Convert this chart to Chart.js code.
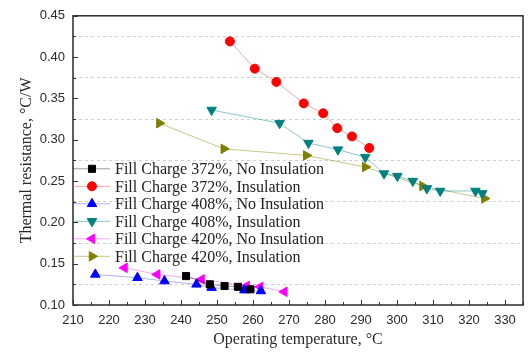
<!DOCTYPE html>
<html>
<head>
<meta charset="utf-8">
<script src="https://cdn.jsdelivr.net/npm/chart.js@4/dist/chart.umd.min.js"></script>
<style>
  html, body { margin: 0; padding: 0; background: #fff; }
</style>
</head>
<body>
<canvas id="thermalChart" width="531" height="352"></canvas>
<script>
// Operating temperature (°C) and thermal resistance (°C/W) per test case
const temp372NoIns = [241.4, 248.0, 252.1, 255.8, 259.3];
const res372NoIns  = [0.135, 0.125, 0.123, 0.122, 0.119];

const temp372Ins = [253.6, 260.5, 266.5, 274.1, 279.5, 283.4, 287.5, 292.3];
const res372Ins  = [0.419, 0.386, 0.370, 0.344, 0.332, 0.314, 0.304, 0.290];

const temp408NoIns = [216.2, 227.9, 235.4, 244.3, 248.5, 257.6, 262.2];
const res408NoIns  = [0.137, 0.133, 0.129, 0.125, 0.121, 0.118, 0.117];

const temp408Ins = [248.5, 267.4, 275.4, 283.6, 291.2, 296.4, 300.1, 304.4, 308.3, 312.0, 321.8, 323.7];
const res408Ins  = [0.336, 0.320, 0.296, 0.288, 0.279, 0.259, 0.256, 0.250, 0.241, 0.238, 0.238, 0.235];

const temp420NoIns = [224.3, 233.4, 245.7, 258.2, 262.0, 268.7];
const res420NoIns  = [0.145, 0.137, 0.131, 0.123, 0.122, 0.116];

const temp420Ins = [234.0, 251.9, 274.8, 291.2, 307.1, 324.3];
const res420Ins  = [0.320, 0.289, 0.281, 0.267, 0.244, 0.229];

const seriesLabels = [
  'Fill Charge 372%, No Insulation',
  'Fill Charge 372%, Insulation',
  'Fill Charge 408%, No Insulation',
  'Fill Charge 408%, Insulation',
  'Fill Charge 420%, No Insulation',
  'Fill Charge 420%, Insulation'
];

const xTickStep = 5;      // minor step, labels every 10
const yTickStep = 0.025;  // minor step, labels every 0.05

const SERIF = '"Liberation Serif", "Times New Roman", serif';
Chart.defaults.font.family = '"Liberation Sans", Arial, sans-serif';
Chart.defaults.color = '#2a2a2a';

function points(xs, ys) {
  return xs.map((x, i) => ({ x: x, y: ys[i] }));
}

function series(label, xs, ys, color, lineColor, style, rotation, radius) {
  return {
    label: label,
    data: points(xs, ys),
    borderColor: lineColor,
    borderWidth: 1,
    backgroundColor: color,
    pointBackgroundColor: color,
    pointBorderColor: color,
    pointBorderWidth: 1,
    pointStyle: style,
    pointRotation: rotation,
    pointRadius: radius,
    showLine: true,
    tension: 0
  };
}

const isMajorY = v => Math.round(v * 1000) % 50 === 0;

// frame around the plot plus inward tick marks
const axisFrame = {
  id: 'axisFrame',
  afterDatasetsDraw(chart) {
    const { ctx, chartArea: a, scales } = chart;
    ctx.save();
    ctx.strokeStyle = '#333';
    ctx.lineWidth = 1;
    scales.x.ticks.forEach(t => {
      const px = Math.round(scales.x.getPixelForValue(t.value)) + 0.5;
      const len = t.value % 10 === 0 ? 5 : 3;
      ctx.beginPath(); ctx.moveTo(px, a.bottom); ctx.lineTo(px, a.bottom - len); ctx.stroke();
    });
    scales.y.ticks.forEach(t => {
      const py = Math.round(scales.y.getPixelForValue(t.value)) + 0.5;
      const len = isMajorY(t.value) ? 5 : 3;
      ctx.beginPath(); ctx.moveTo(a.left, py); ctx.lineTo(a.left + len, py); ctx.stroke();
    });
    ctx.lineWidth = 1.5;
    ctx.strokeStyle = '#2a2a2a';
    ctx.strokeRect(a.left, a.top, a.right - a.left, a.bottom - a.top);
    ctx.restore();
  }
};

// legend drawn inside the plot area, left-aligned
const insideLegend = {
  id: 'insideLegend',
  afterDraw(chart) {
    const { ctx, chartArea: a } = chart;
    ctx.save();
    ctx.font = '16px ' + SERIF;
    ctx.textBaseline = 'middle';
    chart.data.datasets.forEach((ds, i) => {
      const y = a.top + 153 + i * 17.5;
      const x0 = a.left;
      ctx.strokeStyle = ds.borderColor;
      ctx.lineWidth = 1;
      ctx.beginPath(); ctx.moveTo(x0, y); ctx.lineTo(x0 + 37, y); ctx.stroke();
      ctx.fillStyle = ds.pointBackgroundColor;
      ctx.strokeStyle = ds.pointBorderColor;
      Chart.helpers.drawPoint(ctx, {
        pointStyle: ds.pointStyle,
        rotation: ds.pointRotation,
        radius: ds.pointRadius,
        borderWidth: 1
      }, x0 + 19, y);
      ctx.fillStyle = '#222';
      ctx.fillText(ds.label, x0 + 42, y + 1);
    });
    ctx.restore();
  }
};

const ctx = document.getElementById('thermalChart').getContext('2d');
const thermalChart = new Chart(ctx, {
  type: 'scatter',
  data: {
    datasets: [
      series(seriesLabels[0], temp372NoIns, res372NoIns, '#000000', 'rgba(0,0,0,0.4)', 'rect', 0, 5),
      series(seriesLabels[1], temp372Ins, res372Ins, '#ff0000', 'rgba(240,90,90,0.55)', 'circle', 0, 4.5),
      series(seriesLabels[2], temp408NoIns, res408NoIns, '#0000ff', 'rgba(60,60,220,0.4)', 'triangle', 0, 5.5),
      series(seriesLabels[3], temp408Ins, res408Ins, '#008080', 'rgba(0,128,128,0.45)', 'triangle', 180, 5.5),
      series(seriesLabels[4], temp420NoIns, res420NoIns, '#ff00ff', 'rgba(240,60,240,0.45)', 'triangle', 270, 5.5),
      series(seriesLabels[5], temp420Ins, res420Ins, '#808000', 'rgba(128,128,0,0.45)', 'triangle', 90, 5.5)
    ]
  },
  options: {
    responsive: false,
    animation: false,
    layout: { padding: { top: 13, right: 2, left: 0, bottom: 0 } },
    scales: {
      x: {
        type: 'linear',
        min: 210,
        max: 335,
        afterFit(scale) { scale.height = 47; },
        ticks: {
          stepSize: xTickStep,
          autoSkip: false,
          maxRotation: 0,
          padding: 8,
          font: { size: 13 },
          callback: v => (v % 10 === 0 && v <= 330 ? String(v) : '')
        },
        grid: { display: false, drawTicks: false },
        border: { display: false },
        title: {
          display: true,
          text: 'Operating temperature, °C',
          font: { family: SERIF, size: 16 },
          padding: { top: 4, bottom: 3 }
        }
      },
      y: {
        type: 'linear',
        min: 0.10,
        max: 0.45,
        afterFit(scale) { scale.width = 73; },
        ticks: {
          stepSize: yTickStep,
          autoSkip: false,
          padding: 8,
          font: { size: 13 },
          callback: v => (isMajorY(v) ? v.toFixed(2) : '')
        },
        grid: {
          drawTicks: false,
          color: c => (c.tick && !isMajorY(c.tick.value) ? '#cfcfcf' : 'rgba(0,0,0,0)'),
          lineWidth: 1
        },
        border: { display: false, dash: [3, 3] },
        title: {
          display: true,
          text: 'Thermal resistance, °C/W',
          font: { family: SERIF, size: 16 },
          padding: { top: 17, bottom: 0 }
        }
      }
    },
    plugins: {
      legend: { display: false },
      tooltip: { enabled: false }
    }
  },
  plugins: [axisFrame, insideLegend]
});
</script>
</body>
</html>
